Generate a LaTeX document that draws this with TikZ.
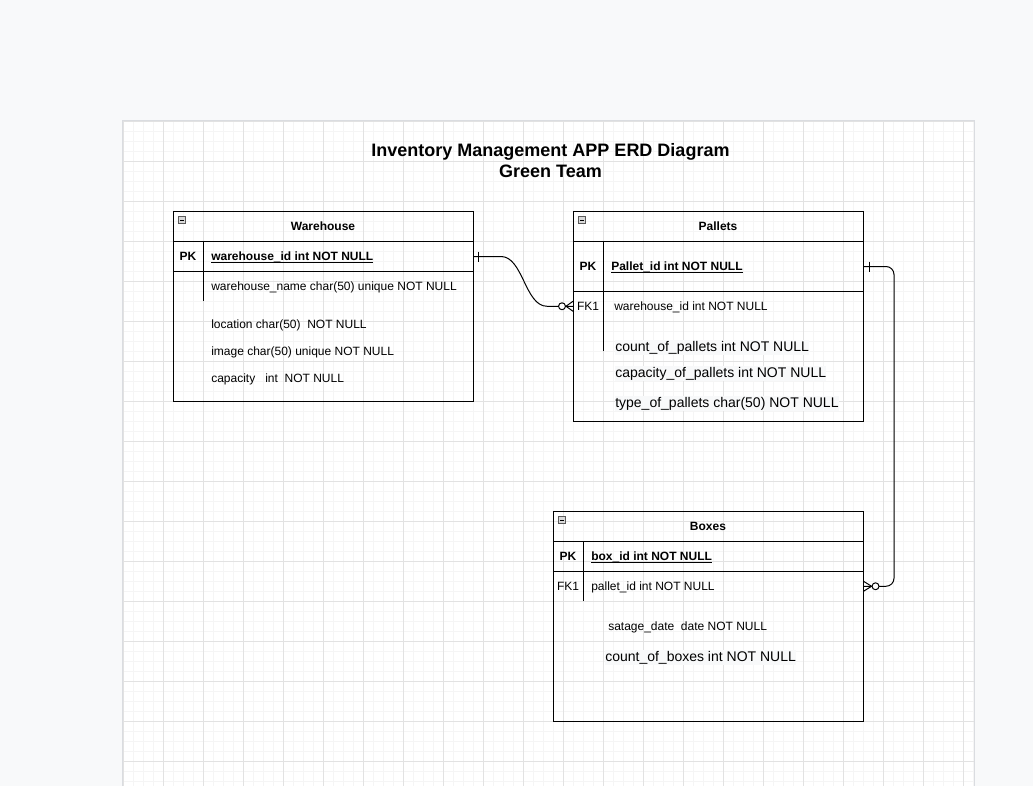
\documentclass[tikz,border=0pt]{standalone}
\usepackage{fontspec}
\setmainfont{Liberation Sans}
\usetikzlibrary{calc}

\definecolor{pagebg}{RGB}{248,249,250}
\definecolor{gridminor}{RGB}{245,245,245}
\definecolor{gridmajor}{RGB}{226,226,226}
\definecolor{canvasedge}{RGB}{218,220,224}

\begin{document}
\begin{tikzpicture}[
    x=0.75pt, y=-0.75pt,
    tbl/.style={draw, line width=0.75pt, anchor=north west, inner sep=0pt},
    rowbox/.style={anchor=north west, inner sep=0pt},
    hdr/.style={anchor=base, font=\bfseries\fontsize{9}{11}\selectfont, inner sep=0pt},
    keycol/.style={anchor=base, font=\fontsize{9}{11}\selectfont, inner sep=0pt},
    fld/.style={anchor=base west, font=\fontsize{9}{11}\selectfont, inner sep=0pt},
    bigfld/.style={anchor=base west, font=\fontsize{10.5}{12}\selectfont, inner xsep=0pt, inner ysep=1pt, fill=pagebg},
    tline/.style={line width=0.75pt},
    conn/.style={line width=0.75pt, line join=round}
  ]
    \useasboundingbox (0,0) rectangle (1033,786);
    \fill[pagebg] (0,0) rectangle (1033,786);

    % Canvas with grid
    \fill[white] (122,120) rectangle (974,786);
    \foreach \gx in {123,133,...,973} \draw[gridminor, line width=0.75pt] (\gx,120) -- (\gx,786);
    \foreach \gy in {121,131,...,781} \draw[gridminor, line width=0.75pt] (122,\gy) -- (974,\gy);
    \foreach \gx in {123,163,...,963} \draw[gridmajor, line width=0.75pt] (\gx,120) -- (\gx,786);
    \foreach \gy in {121,161,...,761} \draw[gridmajor, line width=0.75pt] (122,\gy) -- (974,\gy);
    \draw[canvasedge, line width=0.75pt] (122,786) -- (122,120) -- (974,120) -- (974,786);

    % Title
    \node[anchor=base, font=\bfseries\fontsize{13.5}{15.75}\selectfont, inner sep=0pt] (title) at (550.5,156.5) {Inventory Management APP ERD Diagram};
    \node[anchor=base, font=\bfseries\fontsize{13.5}{15.75}\selectfont, inner sep=0pt] (team) at (550.5,177.5) {Green Team};

    % Warehouse
    \node[tbl, minimum width=225pt, minimum height=142.5pt] (wh) at (173,211) {};
    \node[rowbox, draw, line width=0.75pt, minimum width=225pt, minimum height=22.5pt] (whPK) at (173,241) {};
    \draw[tline] (203,241) -- (203,301);
    \node[hdr] (whTitle) at (323,230.5) {Warehouse};
    \node[keycol, font=\bfseries\fontsize{9}{11}\selectfont] (whPKl) at (188,260.5) {PK};
    \node[fld, font=\bfseries\fontsize{9}{11}\selectfont] (whId) at (211,260.5) {\underline{\smash{warehouse\_id int NOT NULL}}};
    \node[fld] (whName) at (211,290.5) {warehouse\_name char(50) unique NOT NULL};
    \node[fld] (whLoc) at (211,328.5) {location char(50)\ \ NOT NULL};
    \node[fld] (whImg) at (211,355.5) {image char(50) unique NOT NULL};
    \node[fld] (whCap) at (211,382.5) {capacity\ \ \ int\ \ NOT NULL};

    % Pallets
    \node[tbl, minimum width=217.5pt, minimum height=157.5pt] (pa) at (573,211) {};
    \node[rowbox, draw, line width=0.75pt, minimum width=217.5pt, minimum height=37.5pt] (paPK) at (573,241) {};
    \node[rowbox, minimum width=217.5pt, minimum height=22.5pt] (paFK) at (573,291) {};
    \draw[tline] (603,241) -- (603,351);
    \node[hdr] (paTitle) at (718,230.5) {Pallets};
    \node[keycol, font=\bfseries\fontsize{9}{11}\selectfont] (paPKl) at (588,270.5) {PK};
    \node[fld, font=\bfseries\fontsize{9}{11}\selectfont] (paId) at (611,270.5) {\underline{\smash{Pallet\_id int NOT NULL}}};
    \node[keycol] (paFKl) at (588,310.5) {FK1};
    \node[fld] (paWh) at (614,310.5) {warehouse\_id int NOT NULL};
    \node[bigfld] (paCount) at (615,351) {count\_of\_pallets int NOT NULL};
    \node[bigfld] (paCap) at (615,377) {capacity\_of\_pallets int NOT NULL};
    \node[bigfld] (paType) at (615,407) {type\_of\_pallets char(50) NOT NULL};

    % Boxes
    \node[tbl, minimum width=232.5pt, minimum height=157.5pt] (bx) at (553,511) {};
    \node[rowbox, draw, line width=0.75pt, minimum width=232.5pt, minimum height=22.5pt] (bxPK) at (553,541) {};
    \node[rowbox, minimum width=232.5pt, minimum height=22.5pt] (bxFK) at (553,571) {};
    \draw[tline] (583,541) -- (583,601);
    \node[hdr] (bxTitle) at (708,530.5) {Boxes};
    \node[keycol, font=\bfseries\fontsize{9}{11}\selectfont] (bxPKl) at (568,560.5) {PK};
    \node[fld, font=\bfseries\fontsize{9}{11}\selectfont] (bxId) at (591,560.5) {\underline{\smash{box\_id int NOT NULL}}};
    \node[keycol] (bxFKl) at (568,590.5) {FK1};
    \node[fld] (bxPal) at (591,590.5) {pallet\_id int NOT NULL};
    \node[fld] (bxDate) at (608,630.5) {satage\_date\ \ date NOT NULL};
    \node[bigfld] (bxCount) at (605,661) {count\_of\_boxes int NOT NULL};

    % Collapse icons
    \foreach \cx/\cy in {182/220, 582/220, 562/520} {
      \draw[gray!70!black, fill=gray!30, line width=0.5pt] (\cx-3.5,\cy-3.5) rectangle (\cx+3.5,\cy+3.5);
      \draw[line width=0.75pt] (\cx-2,\cy) -- (\cx+2,\cy);
    }

    % Warehouse 1 -- 0..n Pallets
    \draw[conn] (whPK.east) -- ++(27,0) .. controls +(22,0) and +(-22,0) .. ($(paFK.west)+(-26,0)$) -- (paFK.west);
    \draw[conn] ($(whPK.east)+(4,-5)$) -- ++(0,10);
    \draw[conn, fill=white] ($(paFK.west)+(-11,0)$) circle (2.6pt);
    \draw[conn] ($(paFK.west)+(0,-5)$) -- ($(paFK.west)+(-7,0)$) -- ($(paFK.west)+(0,5)$);

    % Pallets 1 -- 0..n Boxes
    \draw[conn, rounded corners=6pt] (paPK.east) -- ++(30,0) |- (bxFK.east);
    \draw[conn] ($(paPK.east)+(5,-5)$) -- ++(0,10);
    \draw[conn, fill=white] ($(bxFK.east)+(12,0)$) circle (2.6pt);
    \draw[conn] ($(bxFK.east)+(0,-5)$) -- ($(bxFK.east)+(8,0)$) -- ($(bxFK.east)+(0,5)$);
  \end{tikzpicture}
\end{document}
